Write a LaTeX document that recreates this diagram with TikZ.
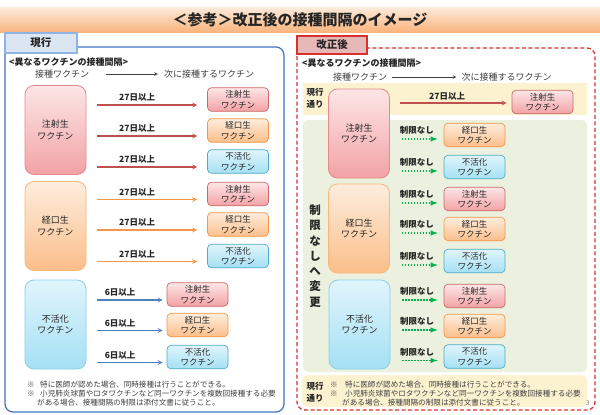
\documentclass[tikz,border=0pt]{standalone}
\usepackage{fontspec}
\setmainfont{Noto Sans CJK JP}
\usepackage{tikz}
\usetikzlibrary{positioning}

\definecolor{ink}{HTML}{262626}
\definecolor{note}{HTML}{404040}
\definecolor{injtop}{HTML}{FDE6E6}
\definecolor{injbot}{HTML}{F2A2A5}
\definecolor{injline}{HTML}{E58A8C}
\definecolor{injdark}{HTML}{C0504D}
\definecolor{oraltop}{HTML}{FDEDDD}
\definecolor{oralbot}{HTML}{FBBE8A}
\definecolor{oralline}{HTML}{F9B779}
\definecolor{oraldark}{HTML}{F79646}
\definecolor{inacttop}{HTML}{E0F5FC}
\definecolor{inactbot}{HTML}{A4E0F4}
\definecolor{inactline}{HTML}{8ACFE8}
\definecolor{inactdark}{HTML}{4BACC6}
\definecolor{bluearrow}{HTML}{4F81BD}
\definecolor{okgreen}{HTML}{00B050}
\definecolor{titletop}{HTML}{FDEBDC}
\definecolor{titlebot}{HTML}{F9B47C}
\definecolor{nowtab}{HTML}{DCE6F2}
\definecolor{nowline}{HTML}{8DB4E2}
\definecolor{nowframe}{HTML}{3F76C0}
\definecolor{newtab}{HTML}{E6B9B8}
\definecolor{newline}{HTML}{D9302C}
\definecolor{yellowbg}{HTML}{FDF2D0}
\definecolor{greenbg}{HTML}{EBF1DE}

\begin{document}
\begin{tikzpicture}[x=1pt,y=-1pt,
  big/.style={draw,rounded corners=9pt,minimum width=61pt,minimum height=89pt,line width=.8pt,align=center,text=ink,font=\fontsize{9}{11.5}\selectfont},
  bigInj/.style={big,draw=injline,top color=injtop,bottom color=injbot},
  bigOral/.style={big,draw=oralline,top color=oraltop,bottom color=oralbot},
  bigInact/.style={big,draw=inactline,top color=inacttop,bottom color=inactbot},
  small/.style={draw,rounded corners=4pt,minimum width=61pt,minimum height=23.5pt,inner sep=0pt,line width=.7pt,align=center,text=ink,font=\fontsize{8.5}{10.5}\selectfont},
  smallInj/.style={small,draw=injdark!85,top color=injtop,bottom color=injbot},
  smallOral/.style={small,draw=oraldark,top color=oraltop,bottom color=oralbot},
  smallInact/.style={small,draw=inactdark,top color=inacttop,bottom color=inactbot},
  gap/.style={font=\bfseries\fontsize{8.5}{10}\selectfont,text=ink,inner sep=0pt,above=3pt,pos=.42},
  txt/.style={font=\fontsize{9}{11}\selectfont,text=note,inner sep=1pt},
  head/.style={font=\bfseries\fontsize{9}{11}\selectfont,text=ink,anchor=west,inner sep=0pt},
  tag/.style={font=\bfseries\fontsize{8.5}{12}\selectfont,text=ink,align=center,inner sep=0pt},
  fn/.style={font=\fontsize{7.6}{9}\selectfont,text=note,align=left,anchor=north west,inner sep=0pt},
  go/.style={-stealth,line width=1.2pt,shorten <=11pt},
  free/.style={-latex,okgreen,line width=1.4pt,dash pattern=on 1.4pt off 1.6pt,shorten <=12pt,shorten >=6pt}]

\useasboundingbox[fill=white] (0,0) rectangle (600,415);

% title bar
\fill[top color=titletop,bottom color=titlebot] (0,7) rectangle (600,32);
\node[font=\bfseries\fontsize{15}{18}\selectfont,text=ink] (title) at (300,19.5) {＜参考＞改正後の接種間隔のイメージ};

% ---- current rule (left)
\draw[nowframe,line width=1.2pt,rounded corners=8pt] (5,47) rectangle (284,412);
\node[draw=nowline,fill=nowtab,line width=1.5pt,minimum width=72pt,minimum height=20pt,font=\bfseries\fontsize{10.5}{12}\selectfont,text=ink] (nowTab) at (41,43) {現行};

\node[head] (lHead) at (9,62) {<異なるワクチンの接種間隔>};
\node[txt] (lFrom) at (62,74) {接種ワクチン};
\node[txt] (lTo) at (209,74) {次に接種するワクチン};
\draw[-stealth,note,line width=.6pt,shorten <=16pt,shorten >=5pt] (lFrom.east) -- (lTo.west);

\node[bigInj] (lInj) at (55.5,130) {注射生\\ワクチン};
\node[bigOral] (lOral) at (55.5,226) {経口生\\ワクチン};
\node[bigInact] (lInact) at (55.5,324.5) {不活化\\ワクチン};

\node[smallInj] (lA) at (238,99.5) {注射生\\ワクチン};
\node[smallOral] (lB) at (238,130.5) {経口生\\ワクチン};
\node[smallInact] (lC) at (238,161.5) {不活化\\ワクチン};
\node[smallInj] (lD) at (238,194) {注射生\\ワクチン};
\node[smallOral] (lE) at (238,224.5) {経口生\\ワクチン};
\node[smallInact] (lF) at (238,256) {不活化\\ワクチン};
\node[smallInj] (lG) at (197.5,294.5) {注射生\\ワクチン};
\node[smallOral] (lH) at (197.5,325) {経口生\\ワクチン};
\node[smallInact] (lI) at (197.5,357) {不活化\\ワクチン};

\path[go,injdark,shorten >=10pt]
  ([yshift=-5.5pt]lA.west -| lInj.east) edge node[gap] {27日以上} ([yshift=-5.5pt]lA.west)
  ([yshift=-5.5pt]lB.west -| lInj.east) edge node[gap] {27日以上} ([yshift=-5.5pt]lB.west)
  ([yshift=-5.5pt]lC.west -| lInj.east) edge node[gap] {27日以上} ([yshift=-5.5pt]lC.west);
\path[go,oraldark,shorten >=10pt]
  ([yshift=-5.5pt]lD.west -| lOral.east) edge node[gap] {27日以上} ([yshift=-5.5pt]lD.west)
  ([yshift=-5.5pt]lE.west -| lOral.east) edge node[gap] {27日以上} ([yshift=-5.5pt]lE.west)
  ([yshift=-5.5pt]lF.west -| lOral.east) edge node[gap] {27日以上} ([yshift=-5.5pt]lF.west);
\path[go,bluearrow,shorten >=4pt]
  ([yshift=-5.5pt]lG.west -| lInact.east) edge node[gap] {6日以上} ([yshift=-5.5pt]lG.west)
  ([yshift=-5.5pt]lH.west -| lInact.east) edge node[gap] {6日以上} ([yshift=-5.5pt]lH.west)
  ([yshift=-5.5pt]lI.west -| lInact.east) edge node[gap] {6日以上} ([yshift=-5.5pt]lI.west);

\node[fn] (lNote) at (27,380.5) {\makebox[13pt][l]{※}特に医師が認めた場合、同時接種は行うことができる。\\
  \makebox[13pt][l]{※}小児肺炎球菌やロタワクチンなど同一ワクチンを複数回接種する必要\\
  \hspace*{10pt}がある場合、接種間隔の制限は添付文書に従うこと。};

% ---- revised rule (right)
\draw[newline,line width=1.3pt,dash pattern=on 4pt off 2.5pt,rounded corners=8pt] (297,48) rectangle (595,410);
\fill[yellowbg] (303,83) rectangle (587,115);
\fill[greenbg,rounded corners=6pt] (303,120) rectangle (587,372);
\fill[yellowbg,rounded corners=6pt] (302,375) rectangle (587,407);
\node[draw=newline,fill=newtab,line width=1.5pt,minimum width=70pt,minimum height=18pt,font=\bfseries\fontsize{10.5}{12}\selectfont,text=ink] (newTab) at (332,45) {改正後};

\node[head] (rHead) at (302,63) {<異なるワクチンの接種間隔>};
\node[txt] (rFrom) at (360,77) {接種ワクチン};
\node[txt] (rTo) at (506.5,77) {次に接種するワクチン};
\draw[-stealth,note,line width=.6pt,shorten <=4pt,shorten >=4pt] (rFrom.east) -- (rTo.west);

\node[tag] (rNow) at (315,98) {現行\\通り};
\node[font=\bfseries\fontsize{11.5}{15.3}\selectfont,text=ink,align=center,inner sep=0pt] (rFree) at (315,256) {制\\限\\な\\し\\へ\\変\\更};

\node[bigInj] (rInj) at (359,133.5) {注射生\\ワクチン};
\node[bigOral] (rOral) at (359,228.5) {経口生\\ワクチン};
\node[bigInact] (rInact) at (359.5,324.5) {不活化\\ワクチン};

\node[smallInj] (rTop) at (542.5,102) {注射生\\ワクチン};
\path[go,injdark,shorten <=10pt,shorten >=5pt]
  ([yshift=-1pt]rTop.west -| rInj.east) edge node[gap,above=2pt,pos=.47] {27日以上} ([yshift=-1pt]rTop.west);

\node[smallOral] (rA) at (474.5,135) {経口生\\ワクチン};
\node[smallInact] (rB) at (474.5,167) {不活化\\ワクチン};
\node[smallInj] (rC) at (474.5,199) {注射生\\ワクチン};
\node[smallOral] (rD) at (474.5,229) {経口生\\ワクチン};
\node[smallInact] (rE) at (474.5,261) {不活化\\ワクチン};
\node[smallInj] (rF) at (474.5,296) {注射生\\ワクチン};
\node[smallOral] (rG) at (474.5,326) {経口生\\ワクチン};
\node[smallInact] (rH) at (474.5,356.5) {不活化\\ワクチン};

\path[free]
  ([yshift=-4pt]rA.west -| rInj.east) edge node[gap,above=3.5pt,pos=.5] {制限なし} ([yshift=-4pt]rA.west)
  ([yshift=-4pt]rB.west -| rInj.east) edge node[gap,above=3.5pt,pos=.5] {制限なし} ([yshift=-4pt]rB.west)
  ([yshift=-4pt]rC.west -| rOral.east) edge node[gap,above=3.5pt,pos=.5] {制限なし} ([yshift=-4pt]rC.west)
  ([yshift=-4pt]rD.west -| rOral.east) edge node[gap,above=3.5pt,pos=.5] {制限なし} ([yshift=-4pt]rD.west)
  ([yshift=-4pt]rE.west -| rOral.east) edge node[gap,above=3.5pt,pos=.5] {制限なし} ([yshift=-4pt]rE.west)
  ([yshift=-4pt]rF.west -| rInact.east) edge node[gap,above=3.5pt,pos=.5] {制限なし} ([yshift=-4pt]rF.west)
  ([yshift=-4pt]rG.west -| rInact.east) edge node[gap,above=3.5pt,pos=.5] {制限なし} ([yshift=-4pt]rG.west)
  ([yshift=-4pt]rH.west -| rInact.east) edge node[gap,above=3.5pt,pos=.5] {制限なし} ([yshift=-4pt]rH.west);

\node[tag] (rNow2) at (315,392) {現行\\通り};
\node[fn] (rNote) at (330,380.5) {\makebox[15pt][l]{※}特に医師が認めた場合、同時接種は行うことができる。\\
  \makebox[15pt][l]{※}小児肺炎球菌やロタワクチンなど同一ワクチンを複数回接種する必要\\
  \hspace*{12pt}がある場合、接種間隔の制限は添付文書に従うこと。};
\node[font=\fontsize{6.5}{8}\selectfont,text=gray,inner sep=0pt] (page) at (588,403) {3};
\end{tikzpicture}
\end{document}
